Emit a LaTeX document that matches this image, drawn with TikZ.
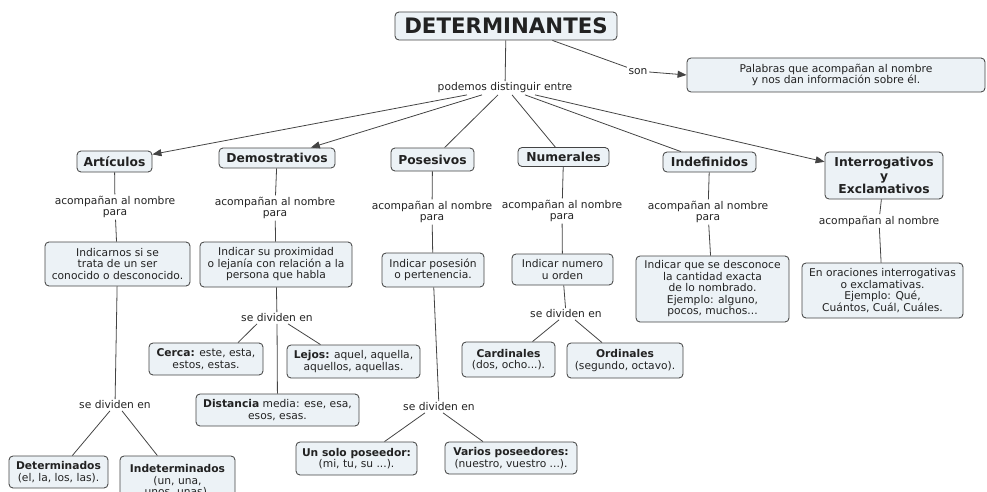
\documentclass[tikz,border=0pt]{standalone}
\usepackage{fontspec}
\setmainfont{DejaVu Sans}
\usetikzlibrary{arrows.meta}
\definecolor{boxfill}{HTML}{ECF2F6}
\definecolor{bord}{HTML}{444444}
\definecolor{ink}{HTML}{222222}
\definecolor{wire}{HTML}{444444}
\newcommand{\smallsz}{\fontsize{10.7}{11.5}\selectfont}
\newcommand{\headsz}{\fontsize{12.3}{13.4}\selectfont\bfseries}
\begin{document}
\begin{tikzpicture}[x=1pt,y=-1pt,
  box/.style={draw=bord, fill=boxfill, rounded corners=4pt, line width=0.85pt,
    align=center, inner sep=1pt, text=ink, font=\smallsz},
  head/.style={box, font=\headsz},
  lab/.style={align=center, inner sep=1.5pt, text=ink, font=\smallsz},
  wirestyle/.style={draw=wire, line width=0.8pt},
  arr/.style={wirestyle, -{Triangle[length=9pt,width=7pt]}}]
\useasboundingbox (0,0) rectangle (987,492);
\clip (0,0) rectangle (987,492);
% title
\node[box, font=\fontsize{21.3}{24}\selectfont\bfseries, minimum width=222pt, minimum height=28pt] (det) at (506,26) {DETERMINANTES};
\node[lab] (son) at (638,72) {son};
\node[box, minimum width=298pt, minimum height=34pt] (pal) at (836,75) {Palabras que acompañan al nombre\\y nos dan información sobre él.};
\node[lab] (pod) at (505,88) {podemos distinguir entre};
% categories
\node[head, minimum width=75pt, minimum height=21pt] (art) at (114.5,161.5) {Artículos};
\node[head, minimum width=116pt, minimum height=20pt] (dem) at (277,158) {Demostrativos};
\node[head, minimum width=83pt, minimum height=23pt] (pos) at (432.5,159.5) {Posesivos};
\node[head, minimum width=91pt, minimum height=19pt] (num) at (563.5,157) {Numerales};
\node[head, minimum width=93pt, minimum height=20pt] (ind) at (709.5,162) {Indefinidos};
\node[head, minimum width=118pt, minimum height=47pt] (int) at (884,175.5) {Interrogativos\\y\\Exclamativos};
% linking labels
\node[lab] (l1) at (115,207) {acompañan al nombre\\para};
\node[lab] (l2) at (275,208) {acompañan al nombre\\para};
\node[lab] (l3) at (432,212) {acompañan al nombre\\para};
\node[lab] (l4) at (562,211) {acompañan al nombre\\para};
\node[lab] (l5) at (708,212) {acompañan al nombre\\para};
\node[lab] (l6) at (879,221) {acompañan al nombre};
% descriptions
\node[box, minimum width=145pt, minimum height=44pt] (b1) at (117.5,264) {Indicarnos si se\\trata de un ser\\conocido o desconocido.};
\node[box, minimum width=152pt, minimum height=45pt] (b2) at (276,264.5) {Indicar su proximidad\\o lejanía con relación a la\\persona que habla};
\node[box, minimum width=102pt, minimum height=34pt] (b3) at (433,270) {Indicar posesión\\o pertenencia.};
\node[box, minimum width=101pt, minimum height=31pt] (b4) at (562.5,269.5) {Indicar numero\\u orden};
\node[box, minimum width=153pt, minimum height=66pt] (b5) at (712.5,289) {Indicar que se desconoce\\la cantidad exacta\\de lo nombrado.\\Ejemplo: alguno,\\pocos, muchos...};
\node[box, minimum width=161pt, minimum height=55pt] (b6) at (882.5,290.5) {En oraciones interrogativas\\o exclamativas.\\Ejemplo: Qué,\\Cuántos, Cuál, Cuáles.};
% se dividen en
\node[lab] (s1) at (115,405) {se dividen en};
\node[lab] (s2) at (277,318) {se dividen en};
\node[lab] (s3) at (439,407) {se dividen en};
\node[lab] (s4) at (566,314) {se dividen en};
% leaves
\node[box, minimum width=114pt, minimum height=32pt] (cerca) at (206,359) {\textbf{Cerca:} este, esta,\\estos, estas.};
\node[box, minimum width=133pt, minimum height=33pt] (lejos) at (353.5,361.5) {\textbf{Lejos:} aquel, aquella,\\aquellos, aquellas.};
\node[box, minimum width=163pt, minimum height=32pt] (dist) at (277.5,410) {\textbf{Distancia} media: ese, esa,\\esos, esas.};
\node[box, minimum width=93pt, minimum height=35pt] (card) at (508.5,359.5) {\textbf{Cardinales}\\(dos, ocho...).};
\node[box, minimum width=116pt, minimum height=35pt] (ord) at (625,360.5) {\textbf{Ordinales}\\(segundo, octavo).};
\node[box, minimum width=121pt, minimum height=33pt] (uno) at (356.5,458.5) {\textbf{Un solo poseedor:}\\(mi, tu, su ...).};
\node[box, minimum width=132pt, minimum height=32pt] (var) at (511,458) {\textbf{Varios poseedores:}\\(nuestro, vuestro ...).};
\node[box, minimum width=99pt, minimum height=32pt] (detm) at (58.5,472) {\textbf{Determinados}\\(el, la, los, las).};
\node[box, minimum width=115pt, minimum height=50pt] (indet) at (177.5,481) {\textbf{Indeterminados}\\(un, una,\\unos, unas).};
% connectors
\draw[wirestyle] (det) -- (pod);
\draw[wirestyle] ([xshift=-65pt]det.south east) -- (son.north west);
\draw[arr] (son.east) -- (pal.west);
\draw[arr] ([xshift=-38pt]pod.south) -- (art);
\draw[arr] ([xshift=-23pt]pod.south) -- (dem);
\draw[wirestyle] ([xshift=-7pt]pod.south) -- (pos);
\draw[wirestyle] ([xshift=7pt]pod.south) -- (num);
\draw[wirestyle] ([xshift=20pt]pod.south) -- (ind);
\draw[arr] ([xshift=30pt]pod.south) -- (int);
\foreach \c/\l/\b in {art/l1/b1, dem/l2/b2, pos/l3/b3, num/l4/b4, ind/l5/b5, int/l6/b6}{
  \draw[wirestyle] (\c) -- (\l);
  \draw[wirestyle] (\l) -- (\b);
}
\draw[wirestyle] (b1) -- (s1);
\draw[wirestyle] (b2) -- (s2);
\draw[wirestyle] (b3) -- (s3);
\draw[wirestyle] (b4) -- (s4);
\draw[wirestyle] ([xshift=-5pt]s1.south) -- (detm);
\draw[wirestyle] ([xshift=7pt]s1.south) -- (indet);
\draw[wirestyle] ([xshift=-20pt]s2.south) -- ([xshift=32pt]cerca.north);
\draw[wirestyle] ([xshift=11pt]s2.south) -- ([xshift=-33pt]lejos.north);
\draw[wirestyle] (s2) -- (dist);
\draw[wirestyle] ([xshift=-14pt]s3.south) -- ([xshift=28pt]uno.north);
\draw[wirestyle] ([xshift=4pt]s3.south) -- ([xshift=-28pt]var.north);
\draw[wirestyle] ([xshift=-7pt]s4.south) -- ([xshift=24pt]card.north);
\draw[wirestyle] ([xshift=9pt]s4.south) -- ([xshift=-23pt]ord.north);
\end{tikzpicture}
\end{document}
